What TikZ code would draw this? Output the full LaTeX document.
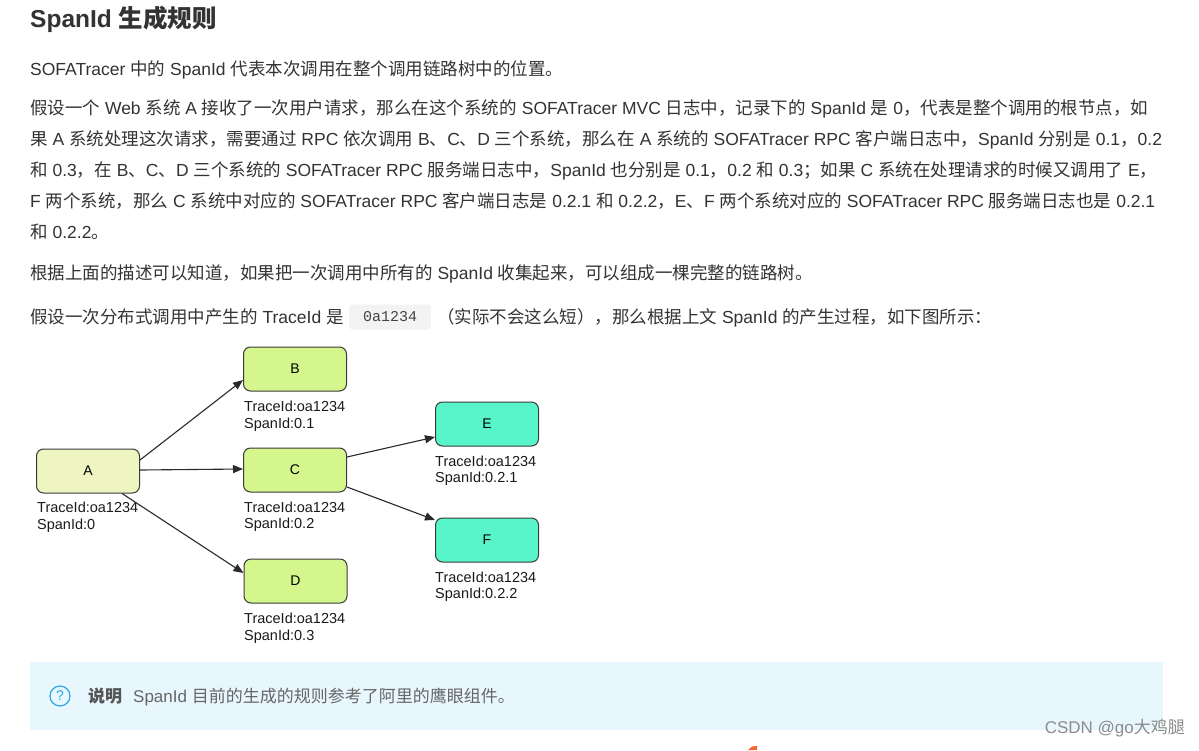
\documentclass[tikz,border=0pt]{standalone}
\usepackage{fontspec}
\usetikzlibrary{arrows.meta,calc}
\setmainfont{Liberation Sans}
\newfontfamily\cjk{Noto Sans CJK SC}
\newfontfamily\codefont{Liberation Mono}
\newXeTeXintercharclass\cjkclass
\newcount\cjkcnt
\def\setcjkrange#1#2{\cjkcnt=#1\relax\loop\XeTeXcharclass\cjkcnt=\cjkclass\relax\ifnum\cjkcnt<#2\relax\advance\cjkcnt by 1\relax\repeat}
\setcjkrange{"4E00}{"9FFF}
\setcjkrange{"3000}{"303F}
\setcjkrange{"FF00}{"FFEF}
\XeTeXinterchartoks 0 \cjkclass = {\cjk}
\XeTeXinterchartoks 4095 \cjkclass = {\cjk}
\XeTeXinterchartoks \cjkclass 0 = {\rmfamily}
\XeTeXinterchartoks \cjkclass 4095 = {\rmfamily}
\XeTeXinterchartokenstate=1
\definecolor{bodytxt}{HTML}{333333}
\definecolor{titletxt}{HTML}{333333}
\definecolor{boxline}{HTML}{3A3A3A}
\definecolor{arrowc}{HTML}{2A2A2A}
\definecolor{fillA}{HTML}{EEF5C0}
\definecolor{fillB}{HTML}{D5F58D}
\definecolor{fillE}{HTML}{57F5C9}
\definecolor{lbltxt}{HTML}{1A1A1A}
\definecolor{codebg}{HTML}{F3F3F3}
\definecolor{codetxt}{HTML}{444444}
\definecolor{infobg}{HTML}{E8F7FE}
\definecolor{infoicon}{HTML}{2AA9E6}
\definecolor{infobold}{HTML}{555555}
\definecolor{infotxt}{HTML}{666666}
\definecolor{wmark}{HTML}{8C8C8C}
\definecolor{orangemark}{HTML}{F06A35}
\tikzset{
  box/.style={draw=boxline, line width=1pt, rounded corners=7pt, minimum width=103pt, minimum height=44pt, inner sep=0pt, font=\fontsize{14}{16}\selectfont, text=black},
  boxA/.style={box, fill=fillA},
  boxB/.style={box, fill=fillB},
  boxE/.style={box, fill=fillE},
  lbl/.style={anchor=base west, inner sep=0pt, font=\fontsize{14.5}{17}\selectfont, text=lbltxt},
  arr/.style={-{Triangle[length=10pt,width=8pt]}, line width=1.1pt, draw=arrowc},
  bodyline/.style={anchor=base west, inner sep=0pt, font=\fontsize{17.5}{20}\selectfont, text=bodytxt},
}
\begin{document}
\begin{tikzpicture}[x=1pt,y=-1pt]
\useasboundingbox[fill=white] (0,0) rectangle (1199,750);
% title
\node[anchor=base west, inner sep=0pt, font=\fontsize{24.5}{28}\selectfont\bfseries, text=titletxt] (title) at (30,27) {SpanId 生成规则};
% body text
\node[bodyline] (l0) at (30,75.5) {SOFATracer 中的 SpanId 代表本次调用在整个调用链路树中的位置。};
\node[bodyline] (l1) at (30,114.5) {假设一个 Web 系统 A 接收了一次用户请求，那么在这个系统的 SOFATracer MVC 日志中，记录下的 SpanId 是 0，代表是整个调用的根节点，如};
\node[bodyline] (l2) at (30,145.5) {果 A 系统处理这次请求，需要通过 RPC 依次调用 B、C、D 三个系统，那么在 A 系统的 SOFATracer RPC 客户端日志中，SpanId 分别是 0.1，0.2};
\node[bodyline] (l3) at (30,176.5) {和 0.3，在 B、C、D 三个系统的 SOFATracer RPC 服务端日志中，SpanId 也分别是 0.1，0.2 和 0.3；如果 C 系统在处理请求的时候又调用了 E，};
\node[bodyline] (l4) at (30,207.5) {F 两个系统，那么 C 系统中对应的 SOFATracer RPC 客户端日志是 0.2.1 和 0.2.2，E、F 两个系统对应的 SOFATracer RPC 服务端日志也是 0.2.1};
\node[bodyline] (l5) at (30,238.5) {和 0.2.2。};
\node[bodyline] (l6) at (30,279.5) {根据上面的描述可以知道，如果把一次调用中所有的 SpanId 收集起来，可以组成一棵完整的链路树。};
\node[bodyline] (l7a) at (30,323.5) {假设一次分布式调用中产生的 TraceId 是};
\node[anchor=west, fill=codebg, rounded corners=3pt, minimum width=82pt, minimum height=25pt, inner sep=0pt, font=\codefont\fontsize{15}{18}\selectfont, text=codetxt] (code) at (349,317) {0a1234};
\node[bodyline] (l7b) at (437,323.5) {（实际不会这么短），那么根据上文 SpanId 的产生过程，如下图所示：};
% diagram nodes
\node[boxA] (A) at (88,471) {A};
\node[boxB] (B) at (295,369) {B};
\node[boxB] (C) at (295,470) {C};
\node[boxB] (D) at (295.5,581) {D};
\node[boxE] (E) at (487,424) {E};
\node[boxE] (F) at (487,540) {F};
% labels
\node[lbl] (la1) at (37,512.5) {TraceId:oa1234};
\node[lbl] (la2) at (37,529.5) {SpanId:0};
\node[lbl] (lb1) at (244,411.5) {TraceId:oa1234};
\node[lbl] (lb2) at (244,428) {SpanId:0.1};
\node[lbl] (lc1) at (244,512) {TraceId:oa1234};
\node[lbl] (lc2) at (244,528.5) {SpanId:0.2};
\node[lbl] (ld1) at (244,623.5) {TraceId:oa1234};
\node[lbl] (ld2) at (244,640) {SpanId:0.3};
\node[lbl] (le1) at (435,466) {TraceId:oa1234};
\node[lbl] (le2) at (435,482.5) {SpanId:0.2.1};
\node[lbl] (lf1) at (435,582) {TraceId:oa1234};
\node[lbl] (lf2) at (435,598.5) {SpanId:0.2.2};
% arrows
\draw[arr] ($(A.east)+(0,-11)$) -- ($(B.west)+(0,11)$);
\draw[arr] ($(A.east)+(0,-1)$) -- ($(C.west)+(0,-1)$);
\draw[arr] ($(A.south)+(34,0)$) -- ($(D.west)+(0,-8)$);
\draw[arr] ($(C.east)+(0,-13)$) -- ($(E.west)+(0,13)$);
\draw[arr] ($(C.east)+(0,17)$) -- ($(F.west)+(0,-20)$);
% info box
\node[anchor=north west, fill=infobg, minimum width=1133pt, minimum height=68pt, inner sep=0pt] (info) at (30,662) {};
\node[draw=infoicon, line width=1.2pt, circle, minimum size=20pt, inner sep=0pt, text=infoicon, font=\fontsize{14}{16}\selectfont] (icon) at (60,696) {?};
\node[anchor=base west, inner sep=0pt, font=\fontsize{17}{20}\selectfont\bfseries, text=infobold] (shuoming) at (88,702) {说明};
\node[anchor=base west, inner sep=0pt, font=\fontsize{17}{20}\selectfont, text=infotxt] (infotext) at (133,702) {SpanId 目前的生成的规则参考了阿里的鹰眼组件。};
% watermark
\node[anchor=base east, inner sep=0pt, font=\fontsize{17}{20}\selectfont, text=wmark] (wm) at (1185,733) {CSDN @go大鸡腿};
% orange mark
\fill[orangemark] (748,750) -- (752,746.5) -- (757,746) -- (757,750) -- cycle;
\end{tikzpicture}
\end{document}
